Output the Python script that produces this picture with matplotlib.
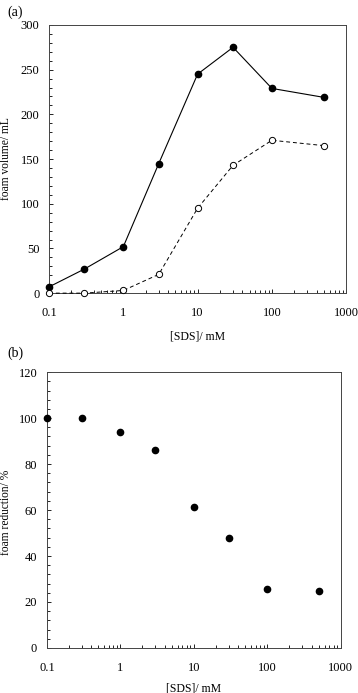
import matplotlib
matplotlib.use("Agg")
import matplotlib.pyplot as plt
from matplotlib.ticker import MultipleLocator, LogLocator, FixedLocator, FixedFormatter, NullFormatter

plt.rcParams['font.family'] = ['Liberation Serif', 'DejaVu Serif']

sds = [0.1, 0.3, 1, 3, 10, 30, 100, 500]
foam_filled = [7, 27, 52, 145, 245, 275, 229, 219]
foam_open = [0, 0, 3, 21, 95, 143, 171, 165]
reduction = [100, 100, 94, 86, 61.5, 48, 25.5, 24.8]
xticks = [0.1, 1, 10, 100, 1000]
xticklabels = ['0.1', '1', '10', '100', '1000']

fig = plt.figure(figsize=(3.58, 6.93), dpi=100)
ax1 = fig.add_axes([0.137, 0.577, 0.830, 0.387])
ax2 = fig.add_axes([0.131, 0.065, 0.821, 0.398])

fs = 9

def style(ax, ymax, ymaj, ymin, xlpad):
    ax.set_xscale('log')
    ax.set_xlim(0.1, 1000)
    ax.set_ylim(0, ymax)
    ax.xaxis.set_major_locator(FixedLocator(xticks))
    ax.xaxis.set_major_formatter(FixedFormatter(xticklabels))
    ax.xaxis.set_minor_locator(LogLocator(base=10, subs=range(2, 10), numticks=20))
    ax.xaxis.set_minor_formatter(NullFormatter())
    ax.yaxis.set_major_locator(MultipleLocator(ymaj))
    ax.yaxis.set_minor_locator(MultipleLocator(ymin))
    ax.tick_params(which='both', direction='in', labelsize=fs, top=False, right=False)
    ax.tick_params(which='major', length=3, width=0.6, pad=7)
    ax.tick_params(which='minor', length=2, width=0.6)
    ax.tick_params(axis='x', which='major', pad=10)
    for s in ax.spines.values():
        s.set_linewidth(0.7)
        s.set_color('#444444')
    ax.set_xlabel('[SDS]/ mM', fontsize=8.5, labelpad=xlpad)

style(ax1, 300, 50, 10, 8)
ax1.plot(sds, foam_filled, '-', color='black', lw=0.8, marker='o', ms=4.5,
         mfc='black', mec='black', clip_on=False, zorder=3)
ax1.plot(sds, foam_open, '--', color='black', lw=0.7, marker='o', ms=4.5,
         mfc='white', mec='black', mew=0.7, clip_on=False, zorder=3, dashes=(4, 3))
ax1.set_ylabel('foam volume/ mL', fontsize=8.3)
ax1.yaxis.set_label_coords(-0.125, 0.5)

style(ax2, 120, 20, 4, 6)
ax2.plot(sds, reduction, 'o', color='black', ms=4.5, clip_on=False, zorder=3)
ax2.set_ylabel('foam reduction/ %', fontsize=8.3)
ax2.yaxis.set_label_coords(-0.12, 0.49)

fig.text(0.02, 0.982, '(a)', fontsize=10, ha='left', va='center')
fig.text(0.02, 0.490, '(b)', fontsize=10, ha='left', va='center')

fig.savefig('out.png', dpi=100)
